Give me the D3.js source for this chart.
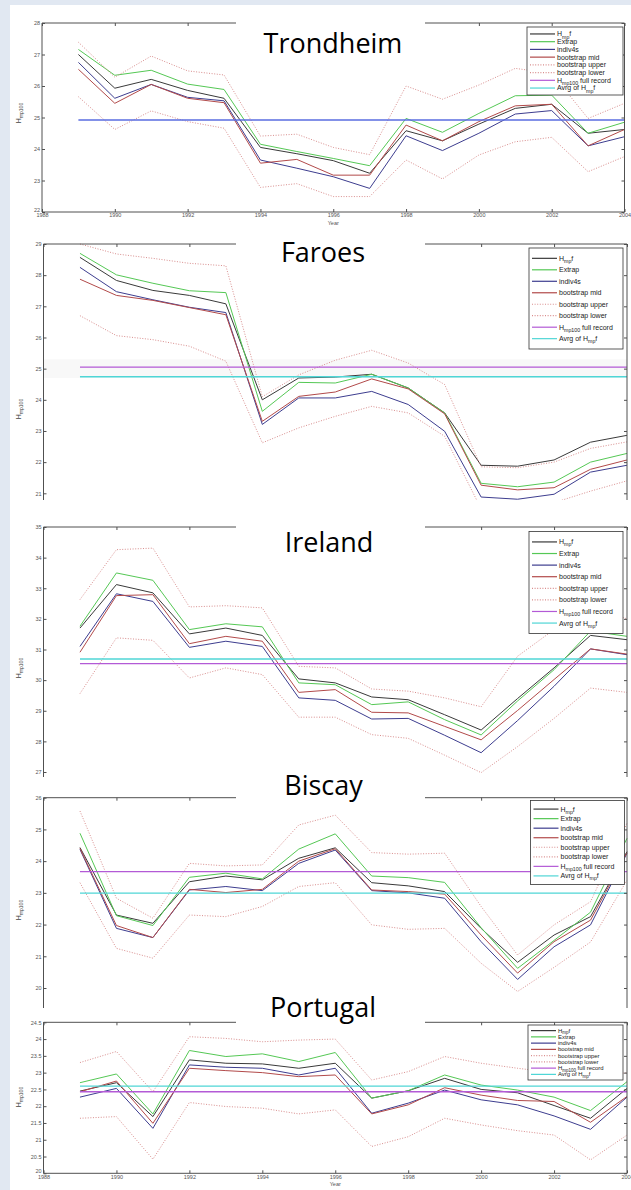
<!DOCTYPE html>
<html lang="en">
<head>
<meta charset="UTF-8">
<title>Hmp100 per region</title>
<script src="https://cdnjs.cloudflare.com/ajax/libs/d3/7.8.5/d3.min.js"></script>
<style>
  body { margin: 0; background: #e1e8f2; }
  svg { display: block; }
  .tick text { font-family: "Liberation Sans", Arial, sans-serif; }
</style>
</head>
<body>
<svg id="chart" width="631" height="1190"></svg>
<script>
/*------------------------------- data ---------------------------------*/
const years = [1989, 1990, 1991, 1992, 1993, 1994, 1995, 1996, 1997, 1998, 1999, 2000, 2001, 2002, 2003, 2004];
const xTicks = [1988, 1990, 1992, 1994, 1996, 1998, 2000, 2002, 2004];
const sites = ["Trondheim", "Faroes", "Ireland", "Biscay", "Portugal"];

// Trondheim
const trondheimHmpf   = [27.0, 25.93, 26.21, 25.86, 25.61, 24.05, 23.85, 23.63, 23.23, 24.58, 24.26, 24.79, 25.29, 25.42, 24.5, 24.62];
const trondheimExtrap = [27.16, 26.34, 26.5, 26.06, 25.89, 24.15, 23.92, 23.7, 23.47, 24.97, 24.53, 25.13, 25.69, 25.71, 24.5, 24.85];
const trondheimIndiv  = [26.75, 25.61, 26.05, 25.64, 25.53, 23.65, 23.39, 23.12, 22.75, 24.42, 23.95, 24.5, 25.11, 25.22, 24.1, 24.39];
const trondheimMid    = [26.53, 25.45, 26.05, 25.61, 25.47, 23.55, 23.67, 23.17, 23.17, 24.76, 24.26, 24.87, 25.37, 25.42, 24.1, 24.62];
const trondheimUpper  = [27.39, 26.28, 26.95, 26.48, 26.35, 24.41, 24.47, 24.05, 23.82, 26.0, 25.58, 26.03, 26.56, 26.4, 24.97, 25.45];
const trondheimLower  = [25.66, 24.62, 25.21, 24.87, 24.66, 22.78, 22.9, 22.49, 22.49, 23.65, 23.05, 23.81, 24.23, 24.37, 23.28, 23.76];

// Faroes
const faroesHmpf   = [28.57, 27.83, 27.51, 27.35, 27.08, 24.0, 24.7, 24.73, 24.82, 24.38, 23.58, 21.9, 21.87, 22.07, 22.64, 22.86];
const faroesExtrap = [28.7, 28.01, 27.74, 27.5, 27.44, 23.63, 24.56, 24.54, 24.82, 24.38, 23.58, 21.32, 21.21, 21.36, 22.0, 22.28];
const faroesIndiv  = [28.25, 27.47, 27.21, 26.97, 26.8, 23.21, 24.06, 24.06, 24.27, 23.85, 22.99, 20.88, 20.81, 20.97, 21.68, 21.9];
const faroesMid    = [27.87, 27.35, 27.19, 26.96, 26.73, 23.31, 24.11, 24.25, 24.67, 24.35, 23.55, 21.26, 21.11, 21.18, 21.77, 22.07];
const faroesUpper  = [29.0, 28.68, 28.54, 28.38, 28.3, 24.1, 24.8, 25.27, 25.59, 25.18, 24.49, 21.85, 21.82, 22.0, 22.44, 22.65];
const faroesLower  = [26.7, 26.06, 25.93, 25.72, 25.24, 22.62, 23.1, 23.47, 23.79, 23.58, 22.83, 20.5, 20.45, 20.7, 21.07, 21.4];

// Ireland
const irelandHmpf   = [31.7, 33.12, 32.85, 31.51, 31.7, 31.46, 30.04, 29.91, 29.45, 29.36, 28.87, 28.37, 29.4, 30.4, 31.46, 31.32];
const irelandExtrap = [31.76, 33.5, 33.26, 31.65, 31.84, 31.74, 29.91, 29.85, 29.2, 29.29, 28.71, 28.21, 29.32, 30.34, 31.6, 31.43];
const irelandIndiv  = [31.1, 32.82, 32.57, 31.07, 31.27, 31.1, 29.42, 29.34, 28.73, 28.75, 28.2, 27.63, 28.68, 29.8, 31.02, 30.83];
const irelandMid    = [30.91, 32.76, 32.79, 31.19, 31.43, 31.27, 29.6, 29.69, 28.95, 28.93, 28.49, 28.05, 29.01, 30.02, 31.02, 30.85];
const irelandUpper  = [32.63, 34.26, 34.31, 32.39, 32.43, 32.36, 30.45, 30.4, 29.71, 29.64, 29.42, 29.13, 30.78, 31.65, 32.4, 32.0];
const irelandLower  = [29.56, 31.38, 31.3, 30.07, 30.4, 30.18, 28.79, 28.79, 28.22, 28.1, 27.55, 26.98, 27.83, 28.75, 29.74, 29.6];

// Biscay
const biscayHmpf   = [24.43, 22.3, 22.04, 23.35, 23.53, 23.41, 24.09, 24.42, 23.32, 23.22, 23.04, 21.88, 20.81, 21.67, 22.25, 24.3];
const biscayExtrap = [24.88, 22.28, 21.97, 23.49, 23.62, 23.44, 24.38, 24.86, 23.53, 23.48, 23.33, 21.9, 20.62, 21.5, 22.39, 24.72];
const biscayIndiv  = [24.37, 21.88, 21.59, 23.09, 23.2, 23.07, 23.93, 24.35, 23.07, 23.0, 22.83, 21.46, 20.27, 21.3, 21.99, 24.25];
const biscayMid    = [24.4, 21.97, 21.59, 23.11, 23.01, 23.11, 24.0, 24.39, 23.09, 23.04, 22.96, 21.67, 20.47, 21.46, 22.14, 24.27];
const biscayUpper  = [25.58, 22.83, 22.2, 23.93, 23.85, 23.88, 25.14, 25.45, 24.27, 24.22, 24.25, 22.57, 21.04, 21.99, 22.72, 25.2];
const biscayLower  = [23.32, 21.25, 20.94, 22.3, 22.25, 22.57, 23.2, 23.32, 21.99, 21.85, 21.88, 20.78, 19.89, 20.65, 21.45, 23.4];

// Portugal
const portugalHmpf   = [22.45, 22.7, 21.69, 23.38, 23.28, 23.26, 23.13, 23.28, 22.24, 22.46, 22.83, 22.5, 22.4, 22.02, 21.64, 22.53];
const portugalExtrap = [22.7, 22.96, 21.77, 23.66, 23.48, 23.56, 23.33, 23.6, 22.24, 22.46, 22.93, 22.63, 22.48, 22.27, 21.87, 22.73];
const portugalIndiv  = [22.27, 22.53, 21.34, 23.23, 23.16, 23.13, 22.93, 23.13, 21.79, 22.09, 22.48, 22.19, 22.04, 21.71, 21.31, 22.27];
const portugalMid    = [22.43, 22.75, 21.49, 23.13, 23.06, 23.0, 22.88, 22.93, 21.77, 22.04, 22.55, 22.33, 22.17, 22.14, 21.52, 22.29];
const portugalUpper  = [23.3, 23.63, 22.43, 24.07, 24.02, 23.92, 23.97, 24.0, 22.78, 23.03, 23.48, 23.28, 23.13, 23.0, 22.85, 23.0];
const portugalLower  = [21.64, 21.69, 20.42, 22.11, 21.99, 21.94, 21.77, 21.89, 20.8, 21.09, 21.64, 21.44, 21.27, 21.14, 20.4, 21.14];

// horizontal reference levels (Trondheim shows a single one)
const fullRecord = [null, 25.05, 30.54, 23.67, 22.43];
const avgHmpf    = [24.92, 24.74, 30.69, 22.99, 22.6];

const yTickValues = [
    [22, 23, 24, 25, 26, 27, 28],
    [21, 22, 23, 24, 25, 26, 27, 28, 29],
    [27, 28, 29, 30, 31, 32, 33, 34, 35],
    [20, 21, 22, 23, 24, 25, 26],
    [20, 20.5, 21, 21.5, 22, 22.5, 23, 23.5, 24, 24.5]
];

const seriesBySite = [
    [trondheimHmpf, trondheimExtrap, trondheimIndiv, trondheimMid, trondheimUpper, trondheimLower],
    [faroesHmpf, faroesExtrap, faroesIndiv, faroesMid, faroesUpper, faroesLower],
    [irelandHmpf, irelandExtrap, irelandIndiv, irelandMid, irelandUpper, irelandLower],
    [biscayHmpf, biscayExtrap, biscayIndiv, biscayMid, biscayUpper, biscayLower],
    [portugalHmpf, portugalExtrap, portugalIndiv, portugalMid, portugalUpper, portugalLower]
];

/*------------------------------ styling -------------------------------*/
const seriesStyle = [
    {color: "#3a3a3a", dash: null},
    {color: "#55c855", dash: null},
    {color: "#3d3d8f", dash: null},
    {color: "#b24a4a", dash: null},
    {color: "#d98e8e", dash: "1,1.6"},
    {color: "#d98e8e", dash: "1,1.6"}
];
const fullColor = "#b35ad6";
const avgColor = "#4fd6d6";

// legend entries: text parts, "s" marks subscript
const legendItems = [
    {parts: [["H", ""], ["mp", "s"], ["f", ""]], color: "#3a3a3a"},
    {parts: [["Extrap", ""]], color: "#55c855"},
    {parts: [["indiv4s", ""]], color: "#3d3d8f"},
    {parts: [["bootstrap mid", ""]], color: "#b24a4a"},
    {parts: [["bootstrap upper", ""]], color: "#d98e8e", dash: "1,1.6"},
    {parts: [["bootstrap lower", ""]], color: "#d98e8e", dash: "1,1.6"},
    {parts: [["H", ""], ["mp100", "s"], [" full record", ""]], color: fullColor},
    {parts: [["Avrg of H", ""], ["mp", "s"], ["f", ""]], color: avgColor}
];

// panel geometry (pixels)
const layout = [
    {bgTop: 5,    xr: [42, 624.5], yr: [212, 23],      frameBottom: 212,  xAxis: true,
     titleX: 333, titleY: 53,   legend: [527, 27, 96, 68],      yLabel: 113, avgColor: "#5a6de0"},
    {bgTop: 228,  xr: [43.5, 627], yr: [493.3, 244],   frameBottom: 500,  xAxis: false,
     titleX: 323, titleY: 262,  legend: [529, 248, 94, 101],    yLabel: 409, band: [25.3, 24.7]},
    {bgTop: 500,  xr: [43.5, 627], yr: [772, 527],     frameBottom: 777,  xAxis: false,
     titleX: 329, titleY: 552,  legend: [529, 531.5, 94, 102],  yLabel: 668},
    {bgTop: 777,  xr: [43.5, 627], yr: [988, 797.7],   frameBottom: 1008, xAxis: false,
     titleX: 323.5, titleY: 795, legend: [530.5, 800.5, 94, 84], yLabel: 910},
    {bgTop: 1008, xr: [43.5, 627], yr: [1173.3, 1022.3], frameBottom: 1173.3, xAxis: true,
     titleX: 323, titleY: 1017, legend: [528, 1025, 95, 55],    yLabel: 1097}
];

const axisColor = "#505050";
const tickFont = "Liberation Sans, Arial, sans-serif";

/*------------------------------ drawing -------------------------------*/
const svg = d3.select("#chart");

svg.append("rect")
    .attr("x", 10).attr("y", 5)
    .attr("width", 621).attr("height", 1185)
    .attr("fill", "#ffffff");

sites.forEach((site, i) => {
    const L = layout[i];
    const g = svg.append("g").attr("class", "panel");
    const ticksY = yTickValues[i];

    // white sheet of this figure covers the lower part of the previous one
    g.append("rect")
        .attr("x", 10).attr("y", L.bgTop)
        .attr("width", 621).attr("height", 1190 - L.bgTop)
        .attr("fill", "#ffffff");

    const x = d3.scaleLinear().domain([1988, 2004]).range(L.xr);
    const y = d3.scaleLinear().domain(d3.extent(ticksY)).range(L.yr);

    if (L.band) {
        g.append("rect")
            .attr("x", L.xr[0]).attr("width", L.xr[1] - L.xr[0])
            .attr("y", y(L.band[0])).attr("height", y(L.band[1]) - y(L.band[0]))
            .attr("fill", "#f8f8f8");
    }

    const line = d3.line()
        .x((d, j) => x(years[j]))
        .y(d => y(d));

    seriesBySite[i].forEach((vals, k) => {
        g.append("path")
            .datum(vals)
            .attr("d", line)
            .attr("fill", "none")
            .attr("stroke", seriesStyle[k].color)
            .attr("stroke-width", 1)
            .attr("stroke-dasharray", seriesStyle[k].dash);
    });

    // horizontal levels
    const levels = [];
    if (fullRecord[i] !== null) levels.push({v: fullRecord[i], c: fullColor});
    levels.push({v: avgHmpf[i], c: L.avgColor || avgColor});
    levels.forEach(l => {
        g.append("line")
            .attr("x1", x(years[0])).attr("x2", x(2004))
            .attr("y1", y(l.v)).attr("y2", y(l.v))
            .attr("stroke", l.c).attr("stroke-width", 1.3);
    });

    /*------------------------- axes ----------------------------*/
    const styleAxis = sel => {
        sel.select(".domain").remove();
        sel.selectAll(".tick line").attr("stroke", axisColor);
        sel.selectAll(".tick text")
            .attr("fill", "#555")
            .style("font-size", "5.5px")
            .style("font-family", tickFont);
    };

    const left = g.append("g")
        .attr("transform", `translate(${L.xr[0]},0)`)
        .call(d3.axisLeft(y).tickValues(ticksY).tickSize(-3).tickPadding(2).tickFormat(d => String(d)))
        .call(styleAxis);
    if (L.xAxis) {
        // lowest label sits right above the first year label
        left.selectAll(".tick text").filter(d => d === ticksY[0]).attr("dy", "-0.1em");
    }
    g.append("g")
        .attr("transform", `translate(${L.xr[1]},0)`)
        .call(d3.axisRight(y).tickValues(ticksY).tickSize(-3).tickFormat(""))
        .call(styleAxis);
    g.append("g")
        .attr("transform", `translate(0,${L.yr[1]})`)
        .call(d3.axisTop(x).tickValues(xTicks).tickSize(-3).tickFormat(""))
        .call(styleAxis);
    if (L.xAxis) {
        g.append("g")
            .attr("transform", `translate(0,${L.yr[0]})`)
            .call(d3.axisBottom(x).tickValues(xTicks).tickSize(-3).tickPadding(1.5).tickFormat(d3.format("d")))
            .call(styleAxis);
        g.append("text")
            .attr("x", x(1996)).attr("y", L.yr[0] + 12.5)
            .attr("text-anchor", "middle")
            .attr("fill", "#555")
            .style("font-size", "5.5px")
            .style("font-family", tickFont)
            .text("Year");
    }

    // axis box
    const frame = g.append("g").attr("stroke", axisColor).attr("stroke-width", 1);
    frame.append("line").attr("x1", L.xr[0]).attr("x2", L.xr[0]).attr("y1", L.yr[1]).attr("y2", L.frameBottom);
    frame.append("line").attr("x1", L.xr[1]).attr("x2", L.xr[1]).attr("y1", L.yr[1]).attr("y2", L.frameBottom);
    frame.append("line").attr("x1", L.xr[0]).attr("x2", L.xr[1]).attr("y1", L.yr[1]).attr("y2", L.yr[1]);
    if (L.xAxis) {
        frame.append("line").attr("x1", L.xr[0]).attr("x2", L.xr[1]).attr("y1", L.yr[0]).attr("y2", L.yr[0]);
    }

    // y label  H_mp100
    const yl = g.append("text")
        .attr("transform", `translate(21,${L.yLabel}) rotate(-90)`)
        .attr("text-anchor", "middle")
        .attr("fill", "#444")
        .style("font-family", tickFont)
        .style("font-size", "7px");
    yl.append("tspan").text("H");
    yl.append("tspan").attr("dy", 2).style("font-size", "5px").text("mp100");

    /*------------------------- legend --------------------------*/
    const [lx, ly, lw, lh] = L.legend;
    const sp = lh / 8.8;
    const first = ly + (lh - 7 * sp) / 2;
    const fs = Math.min(7, sp * 0.95);
    const leg = g.append("g");
    leg.append("rect")
        .attr("x", lx).attr("y", ly).attr("width", lw).attr("height", lh)
        .attr("fill", "#ffffff").attr("stroke", "#333").attr("stroke-width", 0.8);
    legendItems.forEach((it, k) => {
        const cy = first + k * sp;
        leg.append("line")
            .attr("x1", lx + 3).attr("x2", lx + 28)
            .attr("y1", cy).attr("y2", cy)
            .attr("stroke", it.color).attr("stroke-width", 1.2)
            .attr("stroke-dasharray", it.dash || null);
        const t = leg.append("text")
            .attr("x", lx + 30).attr("y", cy + fs * 0.35)
            .attr("fill", "#222")
            .style("font-family", tickFont)
            .style("font-size", fs + "px");
        let shifted = false;
        it.parts.forEach(([txt, kind]) => {
            const ts = t.append("tspan").text(txt);
            if (kind === "s") {
                ts.attr("dy", fs * 0.3).style("font-size", (fs * 0.75) + "px");
                shifted = true;
            } else if (shifted) {
                ts.attr("dy", -fs * 0.3);
                shifted = false;
            }
        });
    });

    /*-------------------------- title --------------------------*/
    g.append("rect")
        .attr("x", 236).attr("y", L.titleY - 31)
        .attr("width", 189).attr("height", 40)
        .attr("fill", "#ffffff");
    g.append("text")
        .attr("x", L.titleX).attr("y", L.titleY)
        .attr("text-anchor", "middle")
        .attr("fill", "#000")
        .style("font-family", "'Open Sans', 'Noto Sans', sans-serif")
        .style("font-size", "27px")
        .text(site);
});
</script>
</body>
</html>
